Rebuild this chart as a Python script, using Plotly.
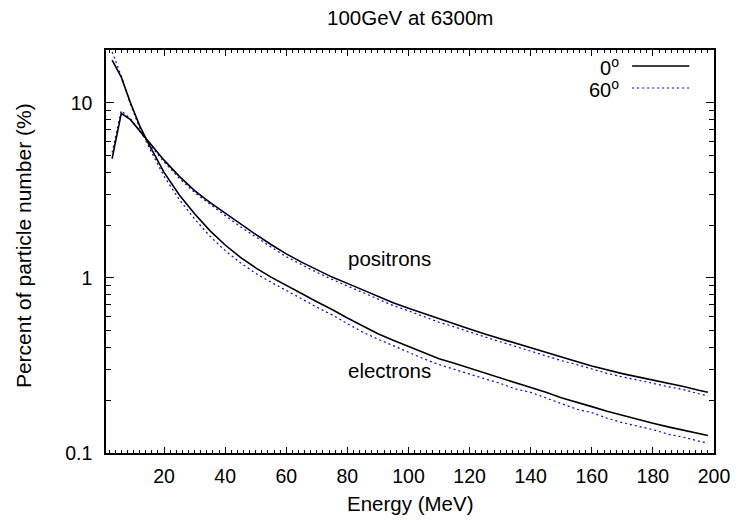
import plotly.graph_objects as go

# Energy grid (MeV)
energy = [3, 6, 9, 12, 15, 20, 25, 30, 35, 40, 45, 50, 55, 60, 65, 70, 75, 80, 85, 90,
          95, 100, 105, 110, 115, 120, 125, 130, 135, 140, 145, 150, 155, 160, 165, 170,
          175, 180, 185, 190, 195, 198]

# positrons, 0 degrees
pos_0 = [4.8, 8.7, 8.0, 6.9, 5.95, 4.7, 3.8, 3.15, 2.70, 2.34, 2.03, 1.77, 1.55, 1.37,
         1.23, 1.11, 1.01, 0.93, 0.855, 0.785, 0.72, 0.67, 0.625, 0.58, 0.545, 0.51,
         0.478, 0.45, 0.42, 0.395, 0.373, 0.353, 0.333, 0.314, 0.298, 0.284, 0.272,
         0.261, 0.250, 0.240, 0.228, 0.222]
# positrons, 60 degrees
pos_60 = [5.2, 9.0, 8.1, 6.9, 5.85, 4.6, 3.7, 3.07, 2.63, 2.27, 1.96, 1.71, 1.50, 1.32,
          1.19, 1.075, 0.98, 0.90, 0.825, 0.755, 0.695, 0.648, 0.60, 0.558, 0.525, 0.49,
          0.46, 0.432, 0.405, 0.38, 0.357, 0.337, 0.32, 0.301, 0.285, 0.272, 0.262,
          0.25, 0.239, 0.23, 0.218, 0.212]
# electrons, 0 degrees
ele_0 = [17.5, 14.0, 10.0, 7.4, 5.8, 4.0, 2.97, 2.32, 1.86, 1.54, 1.31, 1.14, 1.01, 0.91,
         0.815, 0.73, 0.66, 0.59, 0.53, 0.48, 0.44, 0.405, 0.372, 0.345, 0.325, 0.305,
         0.288, 0.268, 0.252, 0.238, 0.222, 0.207, 0.196, 0.184, 0.173, 0.164, 0.155,
         0.148, 0.141, 0.135, 0.129, 0.126]
# electrons, 60 degrees
ele_60 = [19.5, 14.2, 9.8, 7.2, 5.6, 3.8, 2.80, 2.17, 1.73, 1.43, 1.22, 1.06, 0.945, 0.85,
          0.76, 0.68, 0.615, 0.548, 0.49, 0.447, 0.41, 0.376, 0.345, 0.32, 0.30, 0.283,
          0.265, 0.25, 0.232, 0.222, 0.206, 0.19, 0.178, 0.17, 0.158, 0.149, 0.143,
          0.136, 0.128, 0.123, 0.117, 0.114]

x_ticks = [20, 40, 60, 80, 100, 120, 140, 160, 180, 200]
y_ticks = [0.1, 1, 10]
y_ticktext = ["0.1", "1", "10"]
y_minor = [0.2, 0.3, 0.4, 0.5, 0.6, 0.7, 0.8, 0.9, 2, 3, 4, 5, 6, 7, 8, 9, 20]

FONT = "Liberation Sans, Arial, Helvetica, sans-serif"
BLACK = "#000000"
BLUE = "#0000ff"

fig = go.Figure()
solid = dict(color=BLACK, width=1.6)
dotted = dict(color=BLUE, width=1.2, dash="2px,3px")
fig.add_trace(go.Scatter(x=energy, y=pos_60, mode="lines", line=dotted, showlegend=False))
fig.add_trace(go.Scatter(x=energy, y=ele_60, mode="lines", line=dotted, showlegend=False))
fig.add_trace(go.Scatter(x=energy, y=pos_0, mode="lines", line=solid, showlegend=False))
fig.add_trace(go.Scatter(x=energy, y=ele_0, mode="lines", line=solid, showlegend=False))

# plot area in pixels: x 106..722, y 50..453
L, R, T, B = 106, 722, 50, 453
W, H = 742, 520
def px(xp):
    return (xp - L) / (R - L)
def py(yp):
    return (B - yp) / (B - T)

fig.update_layout(
    width=W, height=H,
    margin=dict(l=L, r=W - R, t=T, b=H - B),
    paper_bgcolor="white", plot_bgcolor="white",
    font=dict(family=FONT, size=19, color=BLACK),
    xaxis=dict(range=[1, 200], tickmode="array", tickvals=x_ticks,
               ticks="inside", ticklen=6, tickwidth=1, tickcolor=BLACK,
               showline=True, linecolor=BLACK, linewidth=1.5, mirror="allticks",
               showgrid=False, zeroline=False, ticklabelstandoff=5,
               tickfont=dict(size=19.5),
               minor=dict(ticks="inside", ticklen=3, tickwidth=1, tickcolor=BLACK,
                          dtick=2, tick0=0, showgrid=False)),
    yaxis=dict(type="log", range=[-1, 1.30103], tickmode="array", tickvals=y_ticks,
               ticktext=y_ticktext, tickfont=dict(size=19.5),
               ticks="inside", ticklen=8, tickwidth=1, tickcolor=BLACK,
               showline=True, linecolor=BLACK, linewidth=1.5, mirror="allticks",
               showgrid=False, zeroline=False, ticklabelstandoff=8,
               minor=dict(ticks="inside", ticklen=5, tickwidth=1, tickcolor=BLACK,
                          tickmode="array", tickvals=y_minor, showgrid=False)),
)

ann = []
ann.append(dict(text="100GeV at 6300m", x=px(414), y=py(18), xref="paper", yref="paper",
                showarrow=False, font=dict(size=20.5), xanchor="center", yanchor="middle"))
ann.append(dict(text="Energy (MeV)", x=px(414), y=py(503), xref="paper", yref="paper",
                showarrow=False, font=dict(size=20.5), xanchor="center", yanchor="middle"))
ann.append(dict(text="Percent of particle number (%)", x=px(22), y=py(246), xref="paper",
                yref="paper", showarrow=False, textangle=-90, font=dict(size=21),
                xanchor="center", yanchor="middle"))
ann.append(dict(text="positrons", x=93.7, y=0.110, xref="x", yref="y", showarrow=False,
                font=dict(size=20.5), xanchor="center", yanchor="middle"))
ann.append(dict(text="electrons", x=93.7, y=-0.53, xref="x", yref="y", showarrow=False,
                font=dict(size=20.5), xanchor="center", yanchor="middle"))
ann.append(dict(text="0<sup>o</sup>", x=px(628), y=py(67), xref="paper", yref="paper",
                showarrow=False, font=dict(size=20), xanchor="right", yanchor="middle"))
ann.append(dict(text="60<sup>o</sup>", x=px(628), y=py(88), xref="paper", yref="paper",
                showarrow=False, font=dict(size=20), xanchor="right", yanchor="middle"))
fig.update_layout(annotations=ann)

fig.add_shape(type="line", xref="paper", yref="paper", x0=px(639), x1=px(697),
              y0=py(66), y1=py(66), line=dict(color=BLACK, width=1.6))
fig.add_shape(type="line", xref="paper", yref="paper", x0=px(639), x1=px(697),
              y0=py(88), y1=py(88), line=dict(color=BLUE, width=1.2, dash="2px,3px"))

fig.write_html("out.html")
